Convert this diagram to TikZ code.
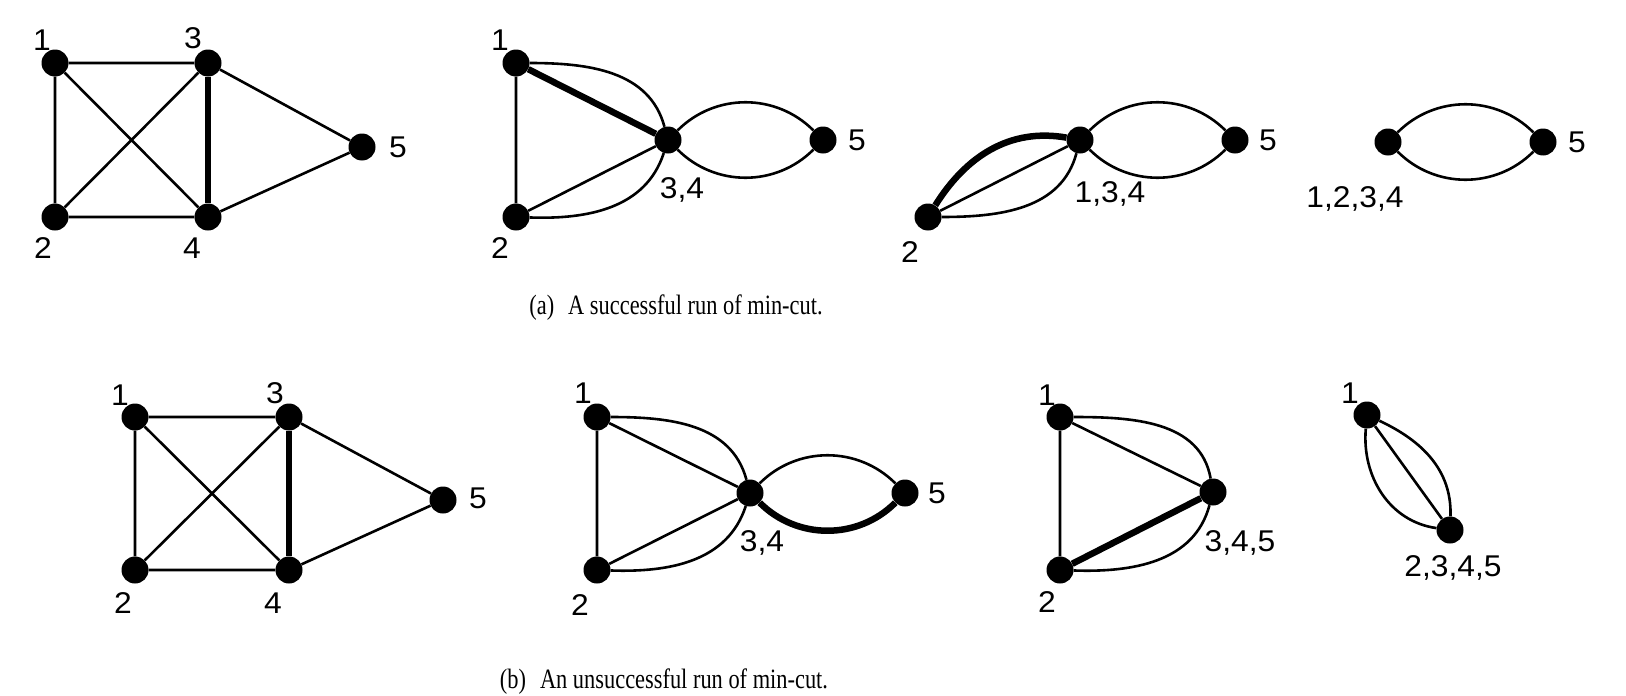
\documentclass[tikz,border=0pt]{standalone}
\usepackage{fontspec}
\setmainfont[FakeStretch=0.8]{Liberation Serif}
\newfontfamily\numfont[FakeStretch=1.06]{Liberation Sans}
\tikzset{
  vtx/.style={circle, fill=black, inner sep=0pt, minimum size=27pt},
  edge/.style={line width=2.6pt},
  cutedge/.style={line width=6.5pt},
  lbl/.style={font=\numfont\fontsize{30}{30}\selectfont, inner sep=0pt},
  capt/.style={font=\fontsize{28}{30}\selectfont, inner sep=0pt},
}
\begin{document}
\begin{tikzpicture}[x=1pt, y=-1pt]
    \useasboundingbox (0,0) rectangle (1626,696);

    % ---- (a) successful run ----
    % Vertices
    \node[vtx] (a1) at (55,63) {};
    \node[vtx] (a2) at (55,217) {};
    \node[vtx] (a3) at (208,63) {};
    \node[vtx] (a4) at (208,217) {};
    \node[vtx] (a5) at (362,147) {};

    \node[vtx] (b1) at (516,63) {};
    \node[vtx] (b2) at (516,217) {};
    \node[vtx] (b34) at (668,140) {};
    \node[vtx] (b5) at (823,140) {};

    \node[vtx] (c2) at (928,217) {};
    \node[vtx] (c134) at (1080,140) {};
    \node[vtx] (c5) at (1235,140) {};

    \node[vtx] (d1234) at (1388,142) {};
    \node[vtx] (d5) at (1543,142) {};

    % Edges
    \draw[edge] (a1) -- (a3) (a1) -- (a2) (a1) -- (a4) (a2) -- (a3)
                (a2) -- (a4) (a3) -- (a5) (a4) -- (a5);
    \draw[cutedge] (a3) -- (a4);

    \draw[edge] (b1) -- (b2) (b2) -- (b34);
    \draw[cutedge] (b1) -- (b34);
    \draw[edge] (b1) to[out=0, in=105] (b34);
    \draw[edge] (b2) to[out=-2, in=-108] (b34);
    \draw[edge] (b34) to[out=45, in=135] (b5);
    \draw[edge] (b34) to[out=-45, in=-135] (b5);

    \draw[cutedge] (c2) to[out=58, in=170] (c134);
    \draw[edge] (c2) -- (c134);
    \draw[edge] (c2) to[out=0, in=-105] (c134);
    \draw[edge] (c134) to[out=45, in=135] (c5);
    \draw[edge] (c134) to[out=-45, in=-135] (c5);

    \draw[edge] (d1234) to[out=45, in=135] (d5);
    \draw[edge] (d1234) to[out=-45, in=-135] (d5);

    % Labels
    \node[lbl] (la1) at (42,40) {1};
    \node[lbl] (la3) at (193,38) {3};
    \node[lbl] (la2) at (43,248) {2};
    \node[lbl] (la4) at (192,248) {4};
    \node[lbl] (la5) at (398,147) {5};
    \node[lbl] (lb1) at (500,40) {1};
    \node[lbl] (lb2) at (500,248) {2};
    \node[lbl] (lb34) at (682,190) {3,4};
    \node[lbl] (lb5) at (857,140) {5};
    \node[lbl] (lc2) at (910,252) {2};
    \node[lbl] (lc134) at (1110,194) {1,3,4};
    \node[lbl] (lc5) at (1268,140) {5};
    \node[lbl] (ld1234) at (1355,199) {1,2,3,4};
    \node[lbl] (ld5) at (1577,142) {5};

    \node[capt] (capa) at (676,308) {(a)\enspace A successful run of min-cut.};

    % ---- (b) unsuccessful run ----
    % Vertices
    \node[vtx] (e1) at (135,417) {};
    \node[vtx] (e2) at (135,570) {};
    \node[vtx] (e3) at (289,417) {};
    \node[vtx] (e4) at (289,570) {};
    \node[vtx] (e5) at (443,500) {};

    \node[vtx] (f1) at (597,417) {};
    \node[vtx] (f2) at (597,570) {};
    \node[vtx] (f34) at (750,493) {};
    \node[vtx] (f5) at (905,493) {};

    \node[vtx] (g1) at (1060,417) {};
    \node[vtx] (g2) at (1060,570) {};
    \node[vtx] (g345) at (1213,492) {};

    \node[vtx] (h1) at (1367,415) {};
    \node[vtx] (h2345) at (1450,530) {};

    % Edges
    \draw[edge] (e1) -- (e3) (e1) -- (e2) (e1) -- (e4) (e2) -- (e3)
                (e2) -- (e4) (e3) -- (e5) (e4) -- (e5);
    \draw[cutedge] (e3) -- (e4);

    \draw[edge] (f1) -- (f2) (f1) -- (f34) (f2) -- (f34);
    \draw[edge] (f1) to[out=0, in=105] (f34);
    \draw[edge] (f2) to[out=-2, in=-108] (f34);
    \draw[edge] (f34) to[out=45, in=135] (f5);
    \draw[cutedge] (f34) to[out=-45, in=-135] (f5);

    \draw[edge] (g1) -- (g2) (g1) -- (g345);
    \draw[cutedge] (g2) -- (g345);
    \draw[edge] (g1) to[out=0, in=100] (g345);
    \draw[edge] (g2) to[out=-2, in=-105] (g345);

    \draw[edge] (h1) -- (h2345);
    \draw[edge] (h1) to[out=-25, in=88] (h2345);
    \draw[edge] (h1) to[out=-95, in=172] (h2345);

    % Labels
    \node[lbl] (le1) at (120,395) {1};
    \node[lbl] (le3) at (275,393) {3};
    \node[lbl] (le2) at (123,603) {2};
    \node[lbl] (le4) at (273,603) {4};
    \node[lbl] (le5) at (478,498) {5};
    \node[lbl] (lf1) at (583,393) {1};
    \node[lbl] (lf2) at (580,605) {2};
    \node[lbl] (lf34) at (762,543) {3,4};
    \node[lbl] (lf5) at (937,493) {5};
    \node[lbl] (lg1) at (1047,395) {1};
    \node[lbl] (lg2) at (1047,602) {2};
    \node[lbl] (lg345) at (1240,543) {3,4,5};
    \node[lbl] (lh1) at (1350,393) {1};
    \node[lbl] (lh2345) at (1453,568) {2,3,4,5};

    \node[capt] (capb) at (664,682) {(b)\enspace An unsuccessful run of min-cut.};
\end{tikzpicture}
\end{document}
